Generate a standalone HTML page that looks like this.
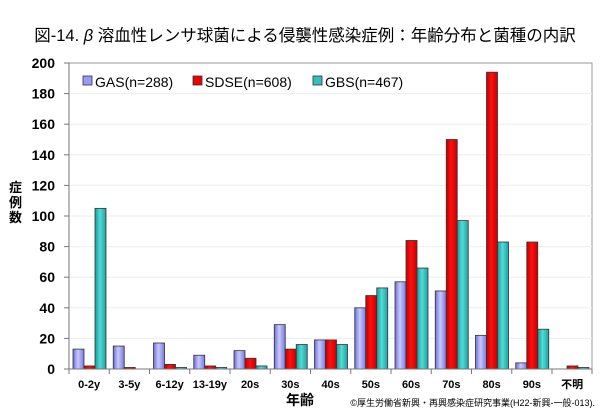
<!DOCTYPE html>
<html><head><meta charset="utf-8"><style>
body{margin:0;background:#fff;}
svg text{font-family:"Liberation Sans","Noto Sans CJK JP",sans-serif;}
</style></head><body>
<svg width="600" height="415" xmlns="http://www.w3.org/2000/svg">
<defs>
<linearGradient id="ga" x1="0" x2="1"><stop offset="0" stop-color="#6f6fd8"/><stop offset=".45" stop-color="#c8c8ff"/><stop offset="1" stop-color="#7878e0"/></linearGradient>
<linearGradient id="gs" x1="0" x2="1"><stop offset="0" stop-color="#c00000"/><stop offset=".45" stop-color="#ff1010"/><stop offset="1" stop-color="#c80000"/></linearGradient>
<linearGradient id="gb" x1="0" x2="1"><stop offset="0" stop-color="#1a9a9a"/><stop offset=".45" stop-color="#50dcd6"/><stop offset="1" stop-color="#20a0a0"/></linearGradient>
</defs>
<text x="305" y="41" font-size="16.5" text-anchor="middle">図-14. <tspan font-style="italic">β</tspan> 溶血性レンサ球菌による侵襲性感染症例：年齢分布と菌種の内訳</text>
<rect x="69" y="63" width="523" height="306" fill="none" stroke="#999" stroke-width="1"/>
<g stroke="#eee" stroke-width="1" id="grid"></g>
<g id="bars"></g>
<line x1="69" y1="63" x2="69" y2="369" stroke="#777"/>
<line x1="69" y1="369" x2="592" y2="369" stroke="#777"/>
<g id="ticks" stroke="#777"></g>
<g id="ylab" font-size="14" font-weight="bold" text-anchor="end"></g>
<g id="xlab" font-size="11" font-weight="bold" text-anchor="middle"></g>
<text x="9" y="192" font-size="13" font-weight="bold">症</text>
<text x="9" y="207" font-size="13" font-weight="bold">例</text>
<text x="9" y="222" font-size="13" font-weight="bold">数</text>
<text x="300" y="405" font-size="14" font-weight="bold" text-anchor="middle">年齢</text>
<text x="595" y="406" font-size="9" text-anchor="end">©厚生労働省新興・再興感染症研究事業(H22-新興-一般-013).</text>
<rect x="83" y="76" width="9" height="9" fill="#9999ff" stroke="#333" stroke-width=".8"/>
<text x="95" y="87" font-size="14">GAS(n=288)</text>
<rect x="193" y="76" width="9" height="9" fill="#ee0000" stroke="#333" stroke-width=".8"/>
<text x="205" y="87" font-size="14">SDSE(n=608)</text>
<rect x="313" y="76" width="9" height="9" fill="#30c0c0" stroke="#333" stroke-width=".8"/>
<text x="325" y="87" font-size="14">GBS(n=467)</text>
</svg>
<script>
const ns="http://www.w3.org/2000/svg";
function el(p,t,a,txt){const e=document.createElementNS(ns,t);for(const k in a)e.setAttribute(k,a[k]);if(txt!==undefined)e.textContent=txt;document.getElementById(p).appendChild(e);}
const y0=369,s=1.53,gw=40.25,ax=69;
for(let v=20;v<200;v+=20)el("grid","line",{x1:ax,x2:592,y1:y0-v*s,y2:y0-v*s});
for(let v=0;v<=200;v+=20){el("ticks","line",{x1:ax-5,x2:ax,y1:y0-v*s,y2:y0-v*s});el("ylab","text",{x:55,y:y0-v*s+5},v);}
const L=["0-2y","3-5y","6-12y","13-19y","20s","30s","40s","50s","60s","70s","80s","90s","不明"];
const D=[[13,15,17,9,12,29,19,40,57,51,22,4,0],[2,1,3,2,7,13,19,48,84,150,194,83,2],[105,0,1,1,2,16,16,53,66,97,83,26,1]];
const F=["url(#ga)","url(#gs)","url(#gb)"];
for(let i=0;i<13;i++){const gx=ax+i*gw;
 el("ticks","line",{x1:gx,x2:gx,y1:y0,y2:y0+5});
 el("xlab","text",{x:gx+gw/2,y:388},L[i]);
 for(let j=0;j<3;j++){const v=D[j][i];if(!v)continue;const h=v*s;
  el("bars","rect",{x:gx+4+j*11,y:y0-h,width:11,height:h,fill:F[j],stroke:"#333","stroke-width":.8});}}
el("ticks","line",{x1:592,x2:592,y1:y0,y2:y0+5});
</script>
</body></html>
